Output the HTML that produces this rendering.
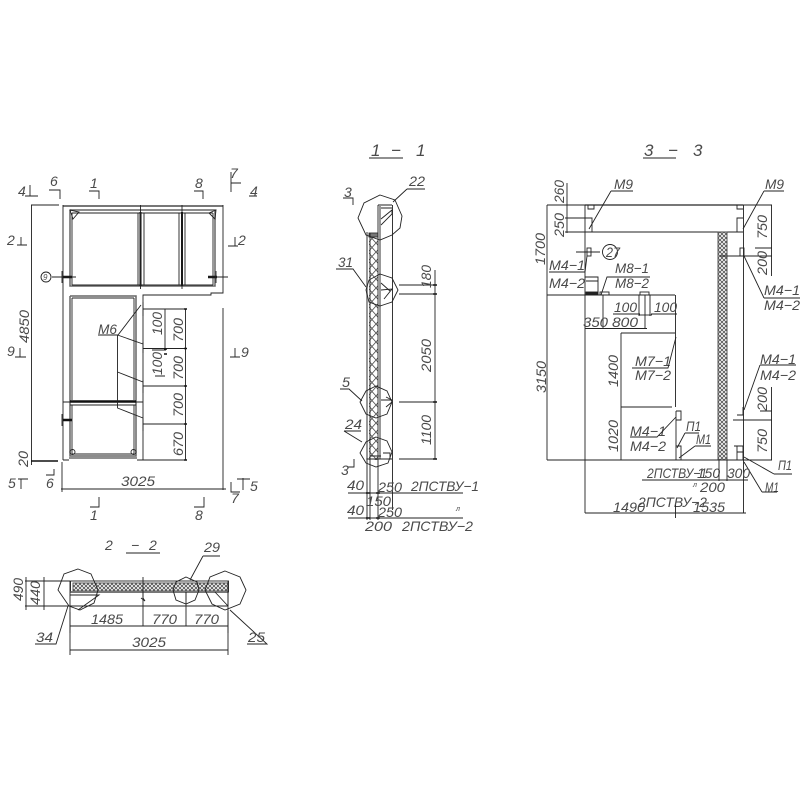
<!DOCTYPE html>
<html><head><meta charset="utf-8"><style>
html,body{margin:0;padding:0;background:#fff;width:800px;height:800px;overflow:hidden}
svg{display:block}
line,polyline,polygon,rect,path,circle{fill:none;stroke:#222;stroke-width:.9}
text{font:italic 14px "Liberation Sans",sans-serif;fill:#4a4a4a}
.g{stroke:#777;stroke-width:2}
.k{stroke:#111;stroke-width:2.4}
</style></head><body>
<svg width="800" height="800" viewBox="0 0 800 800" xmlns="http://www.w3.org/2000/svg">
<defs>
<pattern id="x1" width="8" height="9" patternUnits="userSpaceOnUse"><path d="M0 0L8 9M8 0L0 9" style="stroke:#555;stroke-width:.9"/></pattern>
<pattern id="x2" width="4" height="4" patternUnits="userSpaceOnUse"><rect width="4" height="4" style="fill:#fff;stroke:none"/><path d="M0 0L4 4M4 0L0 4" style="stroke:#555;stroke-width:.9"/></pattern>
</defs>

<!-- FRONT VIEW -->
<line class="g" x1="63" y1="206" x2="223" y2="206"/>
<path d="M63 205V460M223 205V293H211L211 295H143V460M223 308V490"/>
<path d="M63 460H69M137 460H143"/>
<path d="M70 210V286H215V210H70" style="stroke:#666;stroke-width:1.500"/>
<path d="M72 213V285M72 213H213M72 285H213M213 213V285"/>
<path class="k" d="M140.500 212V286M182 212V286" style="stroke-width:2"/>
<path d="M140.500 205V289M182 205V289M138 213V285M144 213V285M179 213V285M185 213V285"/>
<polygon points="70,210 79,212 73,219"/><polygon points="216,210 209,213 215,219"/>
<path d="M70 296V456H136V296H70" style="stroke:#666;stroke-width:1.500"/>
<path d="M72 298V400M72 405V454H134V405M134 298V400M72 298H134"/>
<line x1="63" y1="402" x2="143" y2="402"/>
<line class="k" x1="70" y1="401.500" x2="136" y2="401.500"/>
<line x1="70" y1="405" x2="136" y2="405"/>
<path d="M69 458H137"/>
<circle cx="72.500" cy="452" r="2.500"/><circle cx="133.500" cy="452" r="2.500"/>
<path class="k" d="M63 277H72M208 277H217M63 420H72"/>
<path d="M52 277H76M208 277H228M62 271V283M216 271V283M62 414V426"/>
<circle cx="46" cy="277" r="5"/><text x="43" y="280" style="font-size:8px">9</text>
<path d="M31.500 205V465M31 205H59"/><path class="k" d="M31 461H58" style="stroke-width:1.500"/>
<text transform="rotate(-90 29 343)" x="29" y="343" textLength="33" lengthAdjust="spacingAndGlyphs">4850</text>
<text transform="rotate(-90 28 467)" x="28" y="467" textLength="16" lengthAdjust="spacingAndGlyphs">20</text>
<path d="M143 309H186M143 348.500H186M143 386H186M143 424H186M143 460H186M185.500 309V460"/>
<path d="M143 302V316M143 342V353M143 380V393M143 418V431"/>
<path d="M165 309V349M152 350H166M155 376H165"/>
<path class="k" d="M164 349H167M164 354H167M184 309H187M184 348.500H187M184 386H187M184 424H187M184 460H187" style="stroke-width:1.500"/>
<text transform="rotate(-90 162 335)" x="162" y="335" textLength="23" lengthAdjust="spacingAndGlyphs">100</text>
<text transform="rotate(-90 162 375)" x="162" y="375" textLength="23" lengthAdjust="spacingAndGlyphs">100</text>
<text transform="rotate(-90 183 342)" x="183" y="342" textLength="24" lengthAdjust="spacingAndGlyphs">700</text>
<text transform="rotate(-90 183 380)" x="183" y="380" textLength="24" lengthAdjust="spacingAndGlyphs">700</text>
<text transform="rotate(-90 183 417)" x="183" y="417" textLength="24" lengthAdjust="spacingAndGlyphs">700</text>
<text transform="rotate(-90 183 456)" x="183" y="456" textLength="24" lengthAdjust="spacingAndGlyphs">670</text>
<text x="98" y="334" textLength="19" lengthAdjust="spacingAndGlyphs">M6</text>
<path d="M98 335H118L141 305M117.500 335V408L143 418M117.500 372L143 382M117.500 335L143 344"/>
<path d="M61 489H226"/><path d="M62 462V492"/>
<text x="121" y="486" textLength="34" lengthAdjust="spacingAndGlyphs">3025</text>
<path d="M30 185V196M25 196H38"/>
<path d="M49 190H60V199M89 191H99V199M194 191H203V199M231 172V192M231 183H241M249 196H257"/>
<text x="18" y="196">4</text><text x="50" y="186">6</text><text x="90" y="188">1</text><text x="195" y="188">8</text><text x="230" y="178">7</text><text x="250" y="196">4</text>
<text x="7" y="245">2</text>
<path d="M17 245H27M21 237V245M228 246H238M235 237V246"/><text x="238" y="245">2</text>
<text x="7" y="356">9</text><path d="M15 357H26M20 348V357M230 357H240M235 348V357"/><text x="241" y="357">9</text>
<text x="8" y="488">5</text><path d="M18 479H28M21 479V489M243 478V490M237 479H250"/><text x="250" y="491">5</text>
<path d="M54 469V475H46"/><text x="46" y="488">6</text>
<path d="M231 482V492H240"/><text x="231" y="503">7</text>
<path d="M90 507H99V497M194 507H204V497"/><text x="90" y="520">1</text><text x="195" y="520">8</text>

<!-- 2-2 -->
<text x="105" y="550">2</text><text x="131" y="550">−</text><text x="149" y="550">2</text>
<line x1="126" y1="553" x2="160" y2="553"/>
<rect x="70.500" y="581" width="158" height="11"/>
<rect x="73" y="583" width="155" height="8" style="fill:url(#x2);stroke:#444"/>
<line class="g" x1="70" y1="592" x2="228" y2="592"/>
<path d="M70 581V633M143 577V626M186 592V626M228 581V633M25 581H70M25 606H228M26 577V610M44 577V610"/>
<path d="M70 612V655M228 612V655M70 626H228M70 650H228"/>
<path d="M70 595H99L78 610M143 592V598L145 601L141 598M186 592V600M215 592L228 606M228 592V606"/>
<polygon points="78,569 91,574 98,590 94,603 80,610 69,606 58,590 64,574"/>
<polygon points="225,571 240,577 246,590 240,604 225,610 212,604 205,590 210,577"/>
<polygon points="186,577 197,582 199,590 195,600 186,604 176,600 173,590 176,582"/>
<text transform="rotate(-90 23 601)" x="23" y="601" textLength="23" lengthAdjust="spacingAndGlyphs">490</text>
<text transform="rotate(-90 40 605)" x="40" y="605" textLength="24" lengthAdjust="spacingAndGlyphs">440</text>
<text x="91" y="624" textLength="32" lengthAdjust="spacingAndGlyphs">1485</text>
<text x="152" y="624" textLength="25" lengthAdjust="spacingAndGlyphs">770</text>
<text x="194" y="624" textLength="25" lengthAdjust="spacingAndGlyphs">770</text>
<text x="132" y="647" textLength="34" lengthAdjust="spacingAndGlyphs">3025</text>
<text x="36" y="642" textLength="17" lengthAdjust="spacingAndGlyphs">34</text>
<path d="M35 644H56L68 606M247 644H267L230 610"/>
<text x="248" y="642" textLength="17" lengthAdjust="spacingAndGlyphs">25</text>
<text x="204" y="552" textLength="16" lengthAdjust="spacingAndGlyphs">29</text>
<path d="M203 556H220M203 556L190 580"/>

<!-- 1-1 -->
<text x="371" y="156" style="font-size:17px">1</text><text x="391" y="156" style="font-size:17px">−</text><text x="416" y="156" style="font-size:17px">1</text>
<line x1="369" y1="158" x2="403" y2="158"/>
<rect x="369" y="236" width="9" height="224" style="fill:url(#x1);stroke:none"/>
<rect x="369" y="233" width="9" height="4" style="fill:#777;stroke:#333"/>
<line class="g" x1="367" y1="232" x2="367" y2="520" style="stroke-width:1.500"/>
<path d="M370 233V520M378 205V520M392.500 205V510"/>
<line class="g" x1="380" y1="206" x2="380" y2="459" style="stroke-width:1.500"/>
<path d="M378 205H392M381 208H392M381 219L392 210V214L381 225M366.500 459H392"/>
<path d="M381 290L392 289L384 299M381 283L390 291M381 400H392L386 397M386 407L392 402"/>
<path d="M370 456H381M383 453H390V459"/>
<polygon points="380,195 395,200 402,216 400,228 392,235 380,240 366,235 358,218 364,203"/>
<polygon points="380,274 392,278 398,290 392,302 380,306 369,302 366,290 369,280"/>
<polygon points="376,386 387,391 392,402 387,414 376,418 366,414 360,402 366,391"/>
<polygon points="376,437 387,441 392,452 388,463 376,467 366,463 360,453 366,442"/>
<text x="409" y="186" textLength="16" lengthAdjust="spacingAndGlyphs">22</text>
<path d="M407 189H425M407 189L393 202"/>
<text x="344" y="197">3</text><path d="M343 198H353V205"/>
<text x="338" y="267" textLength="15" lengthAdjust="spacingAndGlyphs">31</text>
<path d="M336 269H353L366 287"/>
<path d="M399 285H436M399 294H436M399 402H436M399 459H436M435 270V459"/>
<path class="k" d="M433 285H437M433 294H437M433 402H437M433 459H437" style="stroke-width:1.500"/>
<text transform="rotate(-90 431 288)" x="431" y="288" textLength="23" lengthAdjust="spacingAndGlyphs">180</text>
<text transform="rotate(-90 431 372)" x="431" y="372" textLength="33" lengthAdjust="spacingAndGlyphs">2050</text>
<text transform="rotate(-90 431 445)" x="431" y="445" textLength="30" lengthAdjust="spacingAndGlyphs">1100</text>
<text x="342" y="387" textLength="8" lengthAdjust="spacingAndGlyphs">5</text>
<path d="M340 389H349L362 401M344 431H361M344 431L362 442"/>
<text x="345" y="429" textLength="17" lengthAdjust="spacingAndGlyphs">24</text>
<path d="M354 459V467H348"/><text x="341" y="475">3</text>
<path d="M348 493H463M348 518H463"/>
<path class="k" d="M366 493H370M376 493H380M366 518H370M376 518H380" style="stroke-width:1.500"/>
<text x="347" y="490" textLength="17" lengthAdjust="spacingAndGlyphs">40</text>
<text x="378" y="492" textLength="24" lengthAdjust="spacingAndGlyphs">250</text>
<text x="411" y="491" textLength="68" lengthAdjust="spacingAndGlyphs">2ПСТВУ−1</text>
<text x="366" y="506" textLength="25" lengthAdjust="spacingAndGlyphs">150</text>
<text x="347" y="515" textLength="17" lengthAdjust="spacingAndGlyphs">40</text>
<text x="378" y="517" textLength="24" lengthAdjust="spacingAndGlyphs">250</text>
<text x="456" y="511" style="font-size:7px">л</text>
<text x="365" y="531" textLength="27" lengthAdjust="spacingAndGlyphs">200</text>
<text x="402" y="531" textLength="71" lengthAdjust="spacingAndGlyphs">2ПСТВУ−2</text>

<!-- 3-3 -->
<text x="644" y="156" style="font-size:17px">3</text><text x="668" y="156" style="font-size:17px">−</text><text x="693" y="156" style="font-size:17px">3</text>
<line x1="643" y1="158" x2="676" y2="158"/>
<line class="g" x1="585" y1="205" x2="743" y2="205"/>
<path d="M585 205V513M743.500 205V513M585 232H743"/>
<rect x="718" y="232" width="9" height="228" style="fill:url(#x2);stroke:#444"/>
<path d="M588 205V209H594V205M737 205V209H743M585 218H592V232M743 218H737V232"/>
<rect x="740" y="248" width="4" height="8"/>
<path d="M547 460H770M547 205V460M547 295H675M547 205H585"/>
<path d="M675.500 295V407M676 411H681V420H676M676 446H681V460H676ZM676 411V460M737 446H743V460H737ZM734 446H743M737 452H743"/>
<path d="M737 415H743V407M738 420H744"/>
<path d="M565 218H590M565 232H585M567 183V233"/>
<text transform="rotate(-90 564 203)" x="564" y="203" textLength="23" lengthAdjust="spacingAndGlyphs">260</text>
<text transform="rotate(-90 564 237)" x="564" y="237" textLength="24" lengthAdjust="spacingAndGlyphs">250</text>
<text transform="rotate(-90 545 265)" x="545" y="265" textLength="32" lengthAdjust="spacingAndGlyphs">1700</text>
<text x="614" y="189" textLength="19" lengthAdjust="spacingAndGlyphs">M9</text>
<path d="M611 191H633M611 191L589 229"/>
<text x="765" y="189" textLength="19" lengthAdjust="spacingAndGlyphs">M9</text>
<path d="M764 191H784M764 191L743 229"/>
<path d="M743 205H772M755 248H772M720 256H772M771.500 205V276"/>
<text transform="rotate(-90 767 239)" x="767" y="239" textLength="24" lengthAdjust="spacingAndGlyphs">750</text>
<text transform="rotate(-90 767 275)" x="767" y="275" textLength="24" lengthAdjust="spacingAndGlyphs">200</text>
<rect x="587" y="248" width="4" height="8"/>
<path d="M576 252H600"/>
<circle cx="610" cy="252" r="7.500"/>
<text x="606" y="257" textLength="14" lengthAdjust="spacingAndGlyphs">27</text>
<text x="549" y="270" textLength="36" lengthAdjust="spacingAndGlyphs">M4−1</text>
<text x="549" y="288" textLength="36" lengthAdjust="spacingAndGlyphs">M4−2</text>
<path d="M549 272H585M585 272L587 256"/>
<path d="M585 277H598V295M586 281H598"/><rect x="586" y="292" width="12" height="3" style="fill:#222"/>
<path d="M601 295L607 277H650"/>
<rect x="600" y="292" width="9" height="3"/><rect x="640" y="292" width="9" height="3"/>
<text x="615" y="273" textLength="34" lengthAdjust="spacingAndGlyphs">M8−1</text>
<text x="615" y="288" textLength="34" lengthAdjust="spacingAndGlyphs">M8−2</text>
<text x="614" y="312" textLength="23" lengthAdjust="spacingAndGlyphs">100</text>
<text x="654" y="312" textLength="23" lengthAdjust="spacingAndGlyphs">100</text>
<path d="M613 314H640M651 314H677M603 295V328M639 295V316M645 295V328M650 295V316"/>
<path d="M639 315H652"/>
<text x="583" y="327" textLength="25" lengthAdjust="spacingAndGlyphs">350</text>
<text x="612" y="327" textLength="26" lengthAdjust="spacingAndGlyphs">800</text>
<path d="M585 328.500H647"/>
<path d="M621 333H675M621 407H672M621 333V460"/>
<text transform="rotate(-90 618 387)" x="618" y="387" textLength="32" lengthAdjust="spacingAndGlyphs">1400</text>
<text transform="rotate(-90 618 452)" x="618" y="452" textLength="32" lengthAdjust="spacingAndGlyphs">1020</text>
<text transform="rotate(-90 546 393)" x="546" y="393" textLength="32" lengthAdjust="spacingAndGlyphs">3150</text>
<text x="635" y="366" textLength="36" lengthAdjust="spacingAndGlyphs">M7−1</text>
<text x="635" y="380" textLength="36" lengthAdjust="spacingAndGlyphs">M7−2</text>
<path d="M632 368H668L676 337"/>
<text x="630" y="436" textLength="36" lengthAdjust="spacingAndGlyphs">M4−1</text>
<text x="630" y="451" textLength="36" lengthAdjust="spacingAndGlyphs">M4−2</text>
<path d="M630 437H657L676 417"/>
<text x="686" y="431" textLength="15" lengthAdjust="spacingAndGlyphs">П1</text>
<text x="696" y="444" textLength="15" lengthAdjust="spacingAndGlyphs">M1</text>
<path d="M685 433H699M685 433L677 448M695 446H711M695 446L679 458"/>
<text x="760" y="364" textLength="36" lengthAdjust="spacingAndGlyphs">M4−1</text>
<text x="760" y="380" textLength="36" lengthAdjust="spacingAndGlyphs">M4−2</text>
<path d="M760 365H796M760 365L744 410"/>
<text x="764" y="295" textLength="36" lengthAdjust="spacingAndGlyphs">M4−1</text>
<text x="764" y="310" textLength="36" lengthAdjust="spacingAndGlyphs">M4−2</text>
<path d="M764 298H800M764 298L744 256"/>
<path d="M733 420H772M760 411H772M771.500 387V460M750 460H772"/>
<text transform="rotate(-90 767 411)" x="767" y="411" textLength="24" lengthAdjust="spacingAndGlyphs">200</text>
<text transform="rotate(-90 767 453)" x="767" y="453" textLength="24" lengthAdjust="spacingAndGlyphs">750</text>
<text x="778" y="470" textLength="14" lengthAdjust="spacingAndGlyphs">П1</text>
<text x="765" y="492" textLength="14" lengthAdjust="spacingAndGlyphs">M1</text>
<path d="M774 474H792M774 474L744 457M762 492H777M762 492L744 462"/>
<text x="647" y="478" textLength="60" lengthAdjust="spacingAndGlyphs">2ПСТВУ−1</text>
<text x="697" y="478" textLength="23" lengthAdjust="spacingAndGlyphs">150</text>
<text x="727" y="478" textLength="23" lengthAdjust="spacingAndGlyphs">300</text>
<path d="M642 480H748M719 460V481M727 460V481"/>
<text x="693" y="487" style="font-size:7px">л</text>
<text x="700" y="492" textLength="25" lengthAdjust="spacingAndGlyphs">200</text>
<text x="638" y="507" textLength="69" lengthAdjust="spacingAndGlyphs">2ПСТВУ−2</text>
<text x="613" y="512" textLength="32" lengthAdjust="spacingAndGlyphs">1490</text>
<text x="693" y="512" textLength="32" lengthAdjust="spacingAndGlyphs">1535</text>
<path d="M585 513H746M675.500 505V518"/>
</svg>
</body></html>
